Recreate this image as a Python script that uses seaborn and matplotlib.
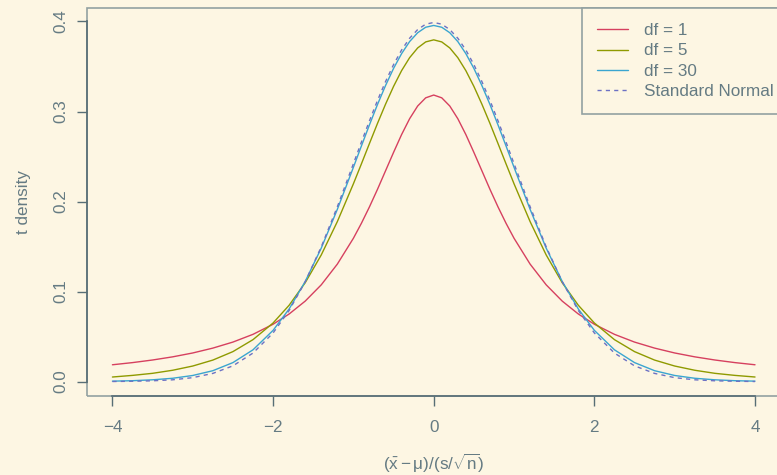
import matplotlib
matplotlib.use("Agg")
import matplotlib.pyplot as plt
import matplotlib.patches as mpatches
import pandas as pd
import seaborn as sns

# x grid and density values
x_vals = [-4.0, -3.75, -3.5, -3.25, -3.0, -2.75, -2.5, -2.25, -2.0, -1.8, -1.6, -1.4,
          -1.2, -1.0, -0.9, -0.8, -0.7, -0.6, -0.5, -0.4, -0.3, -0.2, -0.1, 0.0,
          0.1, 0.2, 0.3, 0.4, 0.5, 0.6, 0.7, 0.8, 0.9, 1.0, 1.2, 1.4, 1.6, 1.8,
          2.0, 2.25, 2.5, 2.75, 3.0, 3.25, 3.5, 3.75, 4.0]

dens_df1 = [0.0187, 0.0211, 0.0240, 0.0275, 0.0318, 0.0372, 0.0439, 0.0525, 0.0637, 0.0751,
            0.0894, 0.1075, 0.1305, 0.1592, 0.1759, 0.1941, 0.2136, 0.2341, 0.2546, 0.2744,
            0.2920, 0.3061, 0.3152, 0.3183, 0.3152, 0.3061, 0.2920, 0.2744, 0.2546, 0.2341,
            0.2136, 0.1941, 0.1759, 0.1592, 0.1305, 0.1075, 0.0894, 0.0751, 0.0637, 0.0525,
            0.0439, 0.0372, 0.0318, 0.0275, 0.0240, 0.0211, 0.0187]

dens_df5 = [0.0051, 0.0069, 0.0092, 0.0126, 0.0173, 0.0239, 0.0333, 0.0466, 0.0651, 0.0848,
            0.1098, 0.1407, 0.1777, 0.2197, 0.2419, 0.2645, 0.2868, 0.3081, 0.3279, 0.3454,
            0.3598, 0.3706, 0.3773, 0.3796, 0.3773, 0.3706, 0.3598, 0.3454, 0.3279, 0.3081,
            0.2868, 0.2645, 0.2419, 0.2197, 0.1777, 0.1407, 0.1098, 0.0848, 0.0651, 0.0466,
            0.0333, 0.0239, 0.0173, 0.0126, 0.0092, 0.0069, 0.0051]

dens_df30 = [0.0005, 0.0010, 0.0020, 0.0037, 0.0068, 0.0121, 0.0211, 0.0353, 0.0569, 0.0807,
             0.1112, 0.1483, 0.1913, 0.2380, 0.2618, 0.2852, 0.3078, 0.3288, 0.3479, 0.3643,
             0.3777, 0.3875, 0.3936, 0.3956, 0.3936, 0.3875, 0.3777, 0.3643, 0.3479, 0.3288,
             0.3078, 0.2852, 0.2618, 0.2380, 0.1913, 0.1483, 0.1112, 0.0807, 0.0569, 0.0353,
             0.0211, 0.0121, 0.0068, 0.0037, 0.0020, 0.0010, 0.0005]

dens_norm = [0.0001, 0.0004, 0.0009, 0.0020, 0.0044, 0.0091, 0.0175, 0.0317, 0.0540, 0.0790,
             0.1109, 0.1497, 0.1942, 0.2420, 0.2661, 0.2897, 0.3123, 0.3332, 0.3521, 0.3683,
             0.3814, 0.3910, 0.3970, 0.3989, 0.3970, 0.3910, 0.3814, 0.3683, 0.3521, 0.3332,
             0.3123, 0.2897, 0.2661, 0.2420, 0.1942, 0.1497, 0.1109, 0.0790, 0.0540, 0.0317,
             0.0175, 0.0091, 0.0044, 0.0020, 0.0009, 0.0004, 0.0001]

series_labels = ["df = 1", "df = 5", "df = 30", "Standard Normal"]
x_ticks = [-4, -2, 0, 2, 4]
y_ticks = [0.0, 0.1, 0.2, 0.3, 0.4]

bg = "#fdf6e3"
text_col = "#657b83"
axis_col = "#586e75"
box_col = "#93a1a1"
colors = ["#d6405f", "#8f9a00", "#3aa5d0", "#6c71c4"]

sns.set_style("white")
plt.rcParams['font.family'] = ['Liberation Sans', 'DejaVu Sans']
plt.rcParams['mathtext.fontset'] = 'custom'
plt.rcParams['mathtext.rm'] = 'Liberation Sans'
plt.rcParams['mathtext.it'] = 'Liberation Sans:italic'
plt.rcParams['mathtext.sf'] = 'Liberation Sans'

df = pd.DataFrame({"x": x_vals, "df1": dens_df1, "df5": dens_df5,
                   "df30": dens_df30, "norm": dens_norm})

fig = plt.figure(figsize=(7.77, 4.75), dpi=100, facecolor=bg)
ax = fig.add_axes([0.1116, 0.1663, 0.8932, 0.8169])
ax.set_facecolor(bg)

cols = ["df1", "df5", "df30", "norm"]
for col, lab, c in zip(cols, series_labels, colors):
    ls = (0, (3, 3)) if col == "norm" else "-"
    sns.lineplot(data=df, x="x", y=col, ax=ax, color=c, linewidth=1.0,
                 linestyle=ls, label=lab, errorbar=None, estimator=None)

ax.set_xlim(-4.32, 4.32)
ax.set_ylim(-0.016, 0.415)
ax.set_xticks(x_ticks)
ax.set_xticklabels(["\u22124", "\u22122", "0", "2", "4"])
ax.set_yticks(y_ticks)
ax.set_yticklabels(["0.0", "0.1", "0.2", "0.3", "0.4"])

# light box around plot region, darker axis lines over tick range
box = mpatches.Rectangle((0, 0), 1, 1, transform=ax.transAxes, fill=False,
                         edgecolor=box_col, linewidth=1.2, clip_on=False, zorder=0.5)
ax.add_patch(box)
for side in ["top", "right"]:
    ax.spines[side].set_visible(False)
ax.spines["left"].set_bounds(0.0, 0.4)
ax.spines["bottom"].set_bounds(-4, 4)
for side in ["left", "bottom"]:
    ax.spines[side].set_color(axis_col)
    ax.spines[side].set_linewidth(1.2)

ax.tick_params(axis="both", direction="out", length=7.2, width=1.0,
               color=axis_col, labelcolor=text_col, labelsize=12.3,
               bottom=True, left=True)
ax.tick_params(axis="x", pad=10)
ax.tick_params(axis="y", pad=6, labelrotation=90)
for t in ax.get_yticklabels():
    t.set_va("center")

ax.set_xlabel(r"$(\bar{\mathrm{x}}-\mathrm{\mu})/(\mathrm{s}/\sqrt{\mathrm{n}})$",
              color=text_col, fontsize=12.3, labelpad=12)
ax.set_ylabel("t density", color=text_col, fontsize=12.3, labelpad=16)

leg = ax.legend(loc="upper right", bbox_to_anchor=(1.0115, 1), borderaxespad=0,
                frameon=True, fancybox=False, fontsize=12.3, handlelength=1.8,
                handletextpad=0.9, borderpad=0.9, labelspacing=0.3)
leg.get_frame().set_edgecolor(box_col)
leg.get_frame().set_facecolor(bg)
leg.get_frame().set_linewidth(1.2)
leg.get_frame().set_alpha(1)
for t in leg.get_texts():
    t.set_color(text_col)

fig.savefig("out.png", dpi=100, facecolor=bg)
